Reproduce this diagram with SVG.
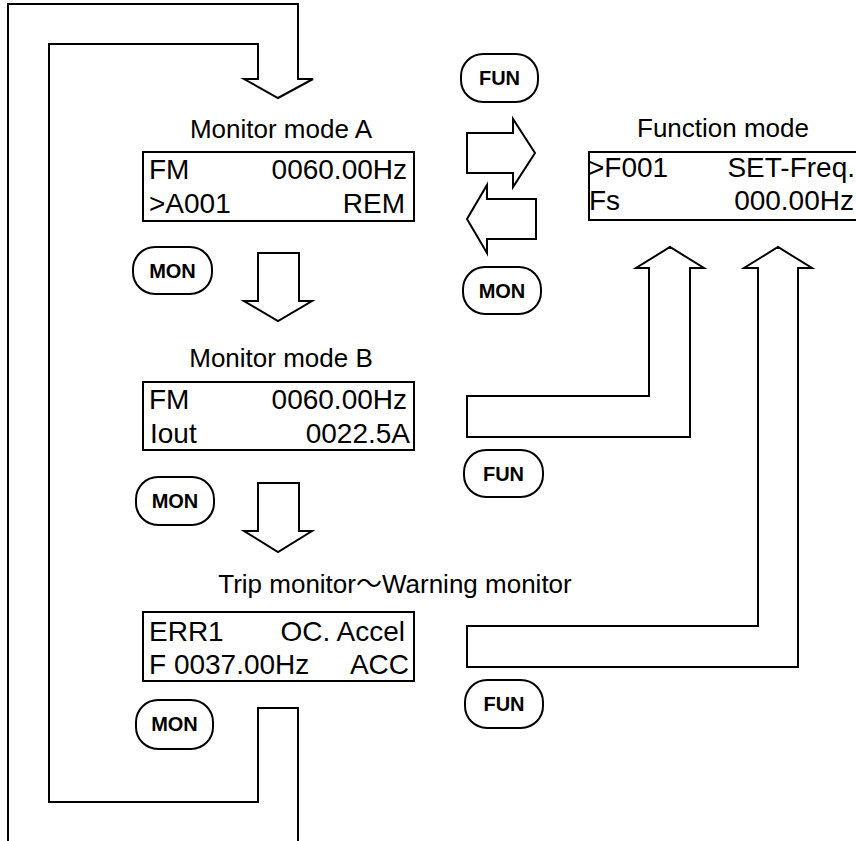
<svg xmlns="http://www.w3.org/2000/svg" width="856" height="841" viewBox="0 0 856 841">
<style>
.ln{fill:none;stroke:#000;stroke-width:2;stroke-linejoin:miter}
.ar{fill:#fff;stroke:#000;stroke-width:2;stroke-linejoin:miter}
.box{fill:#fff;stroke:#000;stroke-width:2}
.btn{fill:#fff;stroke:#000;stroke-width:2}
.title{font-family:"Liberation Sans",Arial,"Noto Sans CJK JP",sans-serif;font-size:26px;fill:#000;text-anchor:middle}
.lcd{font-family:"Liberation Sans",Arial,sans-serif;font-size:28px;fill:#000}
.r{text-anchor:end}
.bt{font-family:"Liberation Sans",Arial,sans-serif;font-size:20px;font-weight:bold;fill:#000;text-anchor:middle}
</style>
<rect width="856" height="841" fill="#fff"/>
<g id="connectors">
<path class="ln" d="M8,841 L8,4 L298,4 L298,79 L313,79 L278,98 L244,79 L258,79 L258,44 L49,44 L49,802 L258,802 L258,708 L298,708 L298,841"/>
<polygon class="ar" points="467,133 513,133 513,119 535,153 513,187 513,173 467,173"/>
<polygon class="ar" points="536,199 487,199 487,185 467,219 487,253 487,239 536,239"/>
<polygon class="ar" points="258,253 299,253 299,301 312,301 278,321 244,301 258,301"/>
<polygon class="ar" points="258,483 299,483 299,531 312,531 278,552 244,531 258,531"/>
<polygon class="ar" points="649,268 649,396 467,396 467,437 690,437 690,268 704,268 670,247 636,268"/>
<polygon class="ar" points="758,268 758,626 467,626 467,667 798,667 798,268 812,268 778,247 744,268"/>
</g>
<g id="monitor-a">
<text class="title" x="281" y="138">Monitor mode A</text>
<rect class="box" x="143" y="152" width="271" height="69"/>
<text class="lcd" x="149" y="179">FM</text>
<text class="lcd r" x="407" y="179">0060.00Hz</text>
<text class="lcd" x="149" y="213">&gt;A001</text>
<text class="lcd r" x="405" y="213">REM</text>
</g>
<g id="monitor-b">
<text class="title" x="281" y="367">Monitor mode B</text>
<rect class="box" x="143" y="382" width="271" height="68"/>
<text class="lcd" x="149" y="409">FM</text>
<text class="lcd r" x="407" y="409">0060.00Hz</text>
<text class="lcd" x="150" y="443">Iout</text>
<text class="lcd r" x="410" y="443">0022.5A</text>
</g>
<g id="trip-monitor">
<text class="title" x="395" y="593">Trip monitor～Warning monitor</text>
<rect class="box" x="143" y="612" width="271" height="69"/>
<text class="lcd" x="149" y="641">ERR1</text>
<text class="lcd r" x="405" y="641">OC. Accel</text>
<text class="lcd" x="149" y="674">F 0037.00Hz</text>
<text class="lcd r" x="409" y="674">ACC</text>
</g>
<g id="function-mode">
<text class="title" x="723" y="137">Function mode</text>
<rect class="box" x="589" y="152" width="272" height="68"/>
<text class="lcd" x="588" y="177">&gt;F001</text>
<text class="lcd r" x="855" y="177">SET-Freq.</text>
<text class="lcd" x="589" y="210">Fs</text>
<text class="lcd r" x="854" y="210">000.00Hz</text>
</g>
<g id="btn-fun-1">
<rect class="btn" x="461" y="54" width="77" height="48" rx="22" ry="22"/>
<text class="bt" x="499.5" y="85">FUN</text>
</g>
<g id="btn-mon-right">
<rect class="btn" x="463" y="267" width="78" height="47" rx="22" ry="22"/>
<text class="bt" x="502" y="298">MON</text>
</g>
<g id="btn-mon-1">
<rect class="btn" x="133" y="247" width="79" height="47" rx="22" ry="22"/>
<text class="bt" x="172.5" y="278">MON</text>
</g>
<g id="btn-fun-2">
<rect class="btn" x="464" y="450" width="79" height="47" rx="22" ry="22"/>
<text class="bt" x="503.5" y="481">FUN</text>
</g>
<g id="btn-mon-2">
<rect class="btn" x="136" y="477" width="78" height="48" rx="22" ry="22"/>
<text class="bt" x="175" y="508">MON</text>
</g>
<g id="btn-fun-3">
<rect class="btn" x="465" y="680" width="78" height="48" rx="22" ry="22"/>
<text class="bt" x="504" y="711">FUN</text>
</g>
<g id="btn-mon-3">
<rect class="btn" x="136" y="700" width="77" height="49" rx="22" ry="22"/>
<text class="bt" x="174.5" y="731">MON</text>
</g>
</svg>
